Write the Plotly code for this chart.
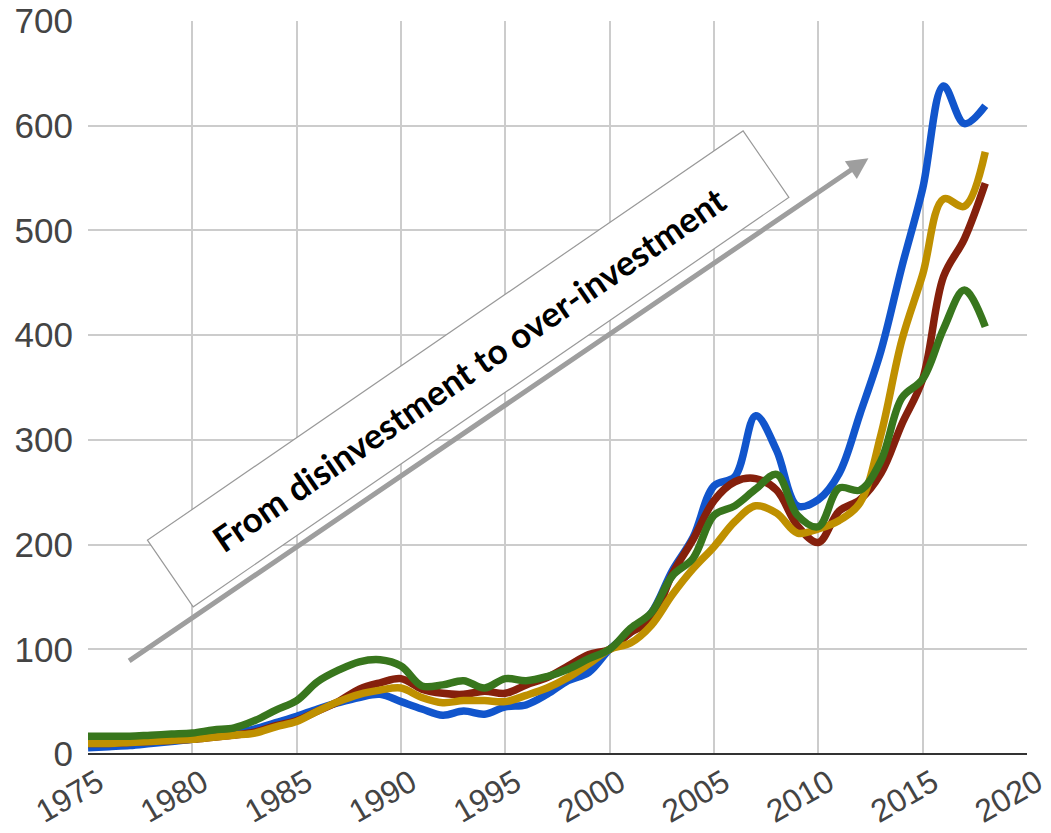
import plotly.graph_objects as go

years = list(range(1975, 2019))

blue = [6, 7, 8, 10, 12, 14, 17, 20, 24, 30, 36, 43, 49, 54, 57, 50, 43, 37, 41, 38,
        45, 47, 57, 70, 78, 100, 116, 135, 175, 207, 256, 265, 323, 290, 237, 243, 268,
        325, 385, 465, 540, 638, 602, 619]
red = [10, 10, 11, 12, 13, 14, 16, 18, 21, 27, 32, 41, 50, 62, 68, 72, 62, 58, 57, 60,
       58, 66, 73, 84, 95, 100, 116, 128, 172, 205, 242, 260, 263, 252, 218, 202, 232,
       243, 268, 315, 358, 456, 492, 545]
yellow = [10, 10, 11, 12, 13, 14, 16, 18, 20, 26, 31, 41, 50, 57, 61, 63, 54, 49, 51, 51,
          50, 56, 63, 73, 86, 100, 106, 123, 152, 177, 198, 222, 237, 230, 211, 215, 223,
          240, 305, 395, 458, 530, 523, 575]
green = [17, 17, 17, 18, 19, 20, 23, 25, 32, 42, 51, 69, 80, 88, 90, 84, 65, 66, 70, 63,
         72, 70, 74, 81, 91, 100, 120, 135, 170, 187, 228, 237, 253, 267, 228, 217, 254,
         252, 280, 340, 358, 406, 443, 408]

series = [("blue", blue, "#1155cc"), ("red", red, "#85200c"),
          ("yellow", yellow, "#bf9000"), ("green", green, "#38761d")]

x_ticks = list(range(1975, 2021, 5))
y_ticks = list(range(0, 701, 100))

label_text = "From disinvestment to over-investment"
label_center = (1993.2, 368)
arrow_tail = (1976.9, 88)
arrow_tip = (2012.4, 569)

fig = go.Figure()
for name, vals, col in series:
    fig.add_trace(go.Scatter(x=years, y=vals, mode="lines", name=name,
                             line=dict(color=col, width=7.5, shape="spline", smoothing=1.0),
                             showlegend=False))

fig.add_annotation(x=arrow_tip[0], y=arrow_tip[1], ax=arrow_tail[0], ay=arrow_tail[1],
                   xref="x", yref="y", axref="x", ayref="y", text="", showarrow=True,
                   arrowhead=2, arrowsize=0.85, arrowwidth=5, arrowcolor="#9e9e9e")

fig.add_annotation(x=label_center[0], y=label_center[1], xref="x", yref="y",
                   text="<b>" + label_text + "</b>", showarrow=False, textangle=-34.5,
                   font=dict(family="Lato, Open Sans, sans-serif", size=35, color="#000"),
                   bgcolor="#ffffff", bordercolor="#999999", borderwidth=1.2,
                   width=720, height=78, align="center", valign="middle")

fig.update_layout(
    width=1051, height=833,
    margin=dict(l=88, r=24, t=21, b=79),
    paper_bgcolor="white", plot_bgcolor="white",
    font=dict(family="Liberation Sans, Arial, sans-serif", color="#444"),
)
fig.update_xaxes(range=[1975, 2020], tickvals=x_ticks, ticktext=[str(v) for v in x_ticks],
                 tickangle=-30, tickfont=dict(size=32, color="#444"),
                 showgrid=True, gridcolor="#cccccc", gridwidth=2, zeroline=False,
                 showline=False, ticks="", automargin=False,
                 ticklabelstandoff=3, ticklabelshift=10, ticklabeloverflow="allow")
fig.update_yaxes(range=[0, 700], tickvals=y_ticks, tickfont=dict(size=35, color="#444"),
                 showgrid=True, gridcolor="#cccccc", gridwidth=2, zeroline=True,
                 zerolinecolor="#333333", zerolinewidth=2, showline=False, ticks="",
                 ticklabelstandoff=14, automargin=False)

fig.write_html("out.html")
